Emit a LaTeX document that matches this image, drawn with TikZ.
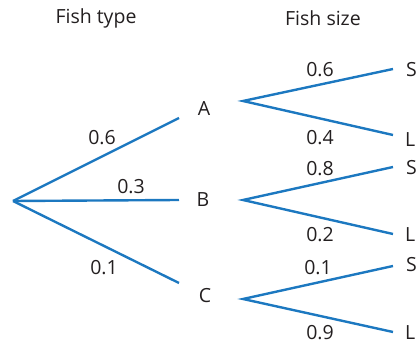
\documentclass[tikz,border=0pt]{standalone}
\usepackage{fontspec}
\setmainfont{Open Sans}
\definecolor{branch}{RGB}{28,120,192}
\definecolor{ink}{RGB}{35,31,32}
\begin{document}
\begin{tikzpicture}[x=1pt,y=-1pt,
  br/.style={draw=branch,line width=2.4pt},
  lab/.style={font=\fontsize{19.5}{22}\selectfont,text=ink,inner sep=0pt}]
\useasboundingbox (0,0) rectangle (416,344);
\node[lab] (h1) at (96,18) {Fish type};
\node[lab] (h2) at (323,18) {Fish size};
% root
\coordinate (R) at (13,201);
\coordinate (Ae) at (179,118);
\coordinate (Be) at (179,200);
\coordinate (Ce) at (179,283);
\node[lab] (A) at (204,109) {A};
\node[lab] (B) at (203,200) {B};
\node[lab] (C) at (205,296) {C};
\coordinate (As) at (243,101);
\coordinate (Bs) at (243,200);
\coordinate (Cs) at (243,299);
\coordinate (AS) at (393,69);
\coordinate (AL) at (393,135);
\coordinate (BS) at (393,167);
\coordinate (BL) at (393,234);
\coordinate (CS) at (393,266);
\coordinate (CL) at (393,332);
\node[lab,anchor=west] (tAS) at (406,70) {S};
\node[lab,anchor=west] (tAL) at (405,140) {L};
\node[lab,anchor=west] (tBS) at (406,168) {S};
\node[lab,anchor=west] (tBL) at (405,235) {L};
\node[lab,anchor=west] (tCS) at (406,265) {S};
\node[lab,anchor=west] (tCL) at (405,333) {L};
\draw[br] (R) -- (Ae);
\draw[br] (R) -- (Be);
\draw[br] (R) -- (Ce);
\draw[br] (AS) -- (As) -- (AL);
\draw[br] (BS) -- (Bs) -- (BL);
\draw[br] (CS) -- (Cs) -- (CL);
\node[lab] (p1) at (102,138) {0.6};
\node[lab] (p2) at (131,187) {0.3};
\node[lab] (p3) at (104,268) {0.1};
\node[lab] (q1) at (320,70) {0.6};
\node[lab] (q2) at (320,138) {0.4};
\node[lab] (q3) at (320,169) {0.8};
\node[lab] (q4) at (320,235) {0.2};
\node[lab] (q5) at (318,268) {0.1};
\node[lab] (q6) at (320,333) {0.9};
\end{tikzpicture}
\end{document}
